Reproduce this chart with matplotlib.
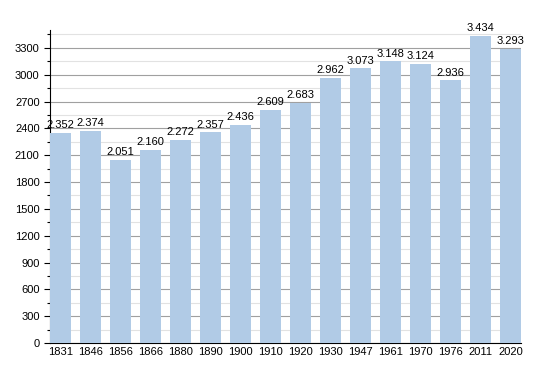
import matplotlib.pyplot as plt
from matplotlib.ticker import MultipleLocator

plt.rcParams['font.family'] = ['Liberation Sans', 'DejaVu Sans']

years = ['1831', '1846', '1856', '1866', '1880', '1890', '1900', '1910', '1920',
         '1930', '1947', '1961', '1970', '1976', '2011', '2020']
population = [2352, 2374, 2051, 2160, 2272, 2357, 2436, 2609, 2683,
              2962, 3073, 3148, 3124, 2936, 3434, 3293]

fig = plt.figure(figsize=(5.5, 3.73), dpi=100)
ax = fig.add_axes([50 / 550, 30 / 373, 471 / 550, 313 / 373])

x = range(len(years))
ax.bar(x, population, width=0.7, color='#b1cbe6', zorder=3)

# value labels with dot as thousands separator
for i, v in enumerate(population):
    label = f'{v:,}'.replace(',', '.')
    ax.text(i, v + 30, label, ha='center', va='bottom', fontsize=8, zorder=4)

ax.set_xlim(-0.35, len(years) - 0.65)
ax.set_ylim(0, 3500)
ax.set_xticks(list(x))
ax.set_xticklabels(years, fontsize=8)
ax.tick_params(axis='x', length=0, pad=3)

ax.yaxis.set_major_locator(MultipleLocator(300))
ax.yaxis.set_minor_locator(MultipleLocator(150))
ax.tick_params(axis='y', which='major', labelsize=8, length=4, width=0.8)
ax.tick_params(axis='y', which='minor', length=2, width=0.8)
ax.grid(axis='y', which='major', color='#a0a0a0', linewidth=0.8, zorder=0)
ax.grid(axis='y', which='minor', color='#e2e2e2', linewidth=0.8, zorder=0)

for s in ['top', 'right']:
    ax.spines[s].set_visible(False)

fig.savefig('out.png')
